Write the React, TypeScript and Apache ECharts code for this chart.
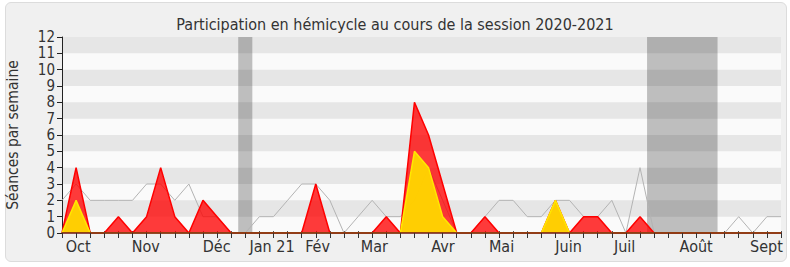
import React, { useEffect, useRef } from "react";
import * as echarts from "echarts";

// Weekly values (week index 0 = first week of the session)
const presences = [0, 4, 0, 0, 1, 0, 1, 4, 1, 0, 2, 1, 0, 0, 0, 0, 0, 0, 3, 0, 0, 0, 0, 1, 0, 8, 6, 3, 0, 0, 1, 0, 0, 0, 0, 2, 0, 1, 1, 0, 0, 1, 0, 0, 0, 0, 0, 0, 0, 0, 0, 0];
const interventions = [0, 2, 0, 0, 0, 0, 0, 0, 0, 0, 0, 0, 0, 0, 0, 0, 0, 0, 0, 0, 0, 0, 0, 0, 0, 5, 4, 1, 0, 0, 0, 0, 0, 0, 0, 2, 0, 0, 0, 0, 0, 0, 0, 0, 0, 0, 0, 0, 0, 0, 0, 0];
const mediane = [2, 3, 2, 2, 2, 2, 3, 3, 2, 3, 1, 1, 0, 0, 1, 1, 2, 3, 3, 2, 0, 1, 2, 1, 1, 2, 4, 2, 0, 0, 1, 2, 2, 1, 1, 2, 2, 1, 1, 2, 0, 4, 0, 0, 0, 0, 0, 0, 1, 0, 1, 1];

const monthLabels = ["Oct", "Nov", "Déc", "Jan 21", "Fév", "Mar", "Avr", "Mai", "Juin", "Juil", "Août", "Sept"];
const monthWeeks = [1.14, 5.94, 10.97, 14.9, 18.13, 22.16, 27.02, 31.18, 35.93, 39.91, 44.98, 49.97];

const vacances = [
  [12.5, 13.5],
  [41.5, 46.5],
];

const FONT = "'DejaVu Sans Condensed', 'DejaVu Sans', sans-serif";

export default function App() {
  const ref = useRef<HTMLDivElement>(null);

  useEffect(() => {
    if (!ref.current) return;
    const chart = echarts.init(ref.current, undefined, { renderer: "svg" });
    const lastWeek = presences.length - 1;
    const weekTicks = presences.map((_, i) => i);
    const toPairs = (arr: number[]) => arr.map((v, i) => [i, v]);

    chart.setOption({
      animation: false,
      backgroundColor: "transparent",
      title: {
        text: "Participation en hémicycle au cours de la session 2020-2021",
        left: "center",
        top: 11,
        textStyle: { fontFamily: FONT, fontSize: 16, fontWeight: "normal", color: "#333" },
      },
      grid: {
        left: 62,
        right: 9,
        top: 37,
        bottom: 34,
        outerBoundsMode: "none",
        containLabel: false,
        show: true,
        backgroundColor: "#fafafa",
        borderWidth: 0,
      },
      xAxis: [
        {
          type: "value",
          min: 0,
          max: lastWeek,
          interval: 1,
          z: 6,
          axisLine: { show: true, onZero: false, lineStyle: { color: "#6e1414", width: 1.5 } },
          axisTick: { show: true, length: 5, customValues: weekTicks, lineStyle: { color: "#333" } },
          axisLabel: {
            customValues: monthWeeks,
            formatter: (v: number) => {
              const k = monthWeeks.findIndex((m) => Math.abs(m - v) < 1e-6);
              return k >= 0 ? monthLabels[k] : "";
            },
            margin: 5,
            fontFamily: FONT,
            fontSize: 16,
            color: "#333",
          },
          splitLine: { show: false },
        },
        {
          type: "value",
          position: "top",
          min: 0,
          max: lastWeek,
          interval: 1,
          axisLine: { show: false },
          axisTick: { show: true, length: 2, lineStyle: { color: "#555" } },
          axisLabel: { show: false },
          splitLine: { show: false },
        },
      ],
      yAxis: {
        type: "value",
        min: 0,
        max: 12,
        interval: 1,
        z: 2,
        name: "Séances par semaine",
        nameLocation: "middle",
        nameGap: 41,
        nameTextStyle: { fontFamily: FONT, fontSize: 15.5, color: "#333" },
        axisLine: { show: true, lineStyle: { color: "#222" } },
        axisTick: { show: true, length: 5, lineStyle: { color: "#222" } },
        axisLabel: {
          fontFamily: FONT,
          fontSize: 15,
          lineHeight: 14,
          color: "#333",
          margin: 7,
          showMinLabel: true,
          showMaxLabel: true,
          hideOverlap: false,
        },
        splitLine: { show: false },
        splitArea: {
          show: true,
          areaStyle: { color: ["rgba(0,0,0,0)", "rgba(0,0,0,0.08)"] },
        },
      },
      series: [
        {
          name: "Médiane",
          type: "line",
          z: 3,
          data: toPairs(mediane),
          symbol: "none",
          lineStyle: { color: "#b3b3b3", width: 1 },
          markArea: {
            silent: true,
            z: 1,
            itemStyle: { color: "#bebebe" },
            data: vacances.map(([a, b]) => [{ xAxis: a }, { xAxis: b }]),
          },
        },
        {
          name: "Présences",
          type: "line",
          z: 4,
          data: toPairs(presences),
          symbol: "none",
          lineStyle: { color: "#ff0000", width: 1.5 },
          areaStyle: { color: "rgba(255,0,0,0.77)", opacity: 1 },
        },
        {
          name: "Interventions",
          type: "line",
          z: 5,
          data: toPairs(interventions),
          symbol: "none",
          lineStyle: { color: "#ffe800", width: 1.5 },
          areaStyle: { color: "rgba(255,212,0,0.96)", opacity: 1 },
        },
      ],
    });

    return () => chart.dispose();
  }, []);

  return (
    <div style={{ position: "fixed", left: 0, top: 0, width: 790, height: 267, background: "#ffffff" }}>
      <div
        style={{
          position: "absolute",
          left: 5,
          top: 2,
          width: 780,
          height: 258,
          background: "#f0f0f0",
          border: "1px solid #dcdcdc",
          borderRadius: 6,
        }}
      />
      <div ref={ref} style={{ position: "absolute", left: 0, top: 0, width: 790, height: 267 }} />
    </div>
  );
}
